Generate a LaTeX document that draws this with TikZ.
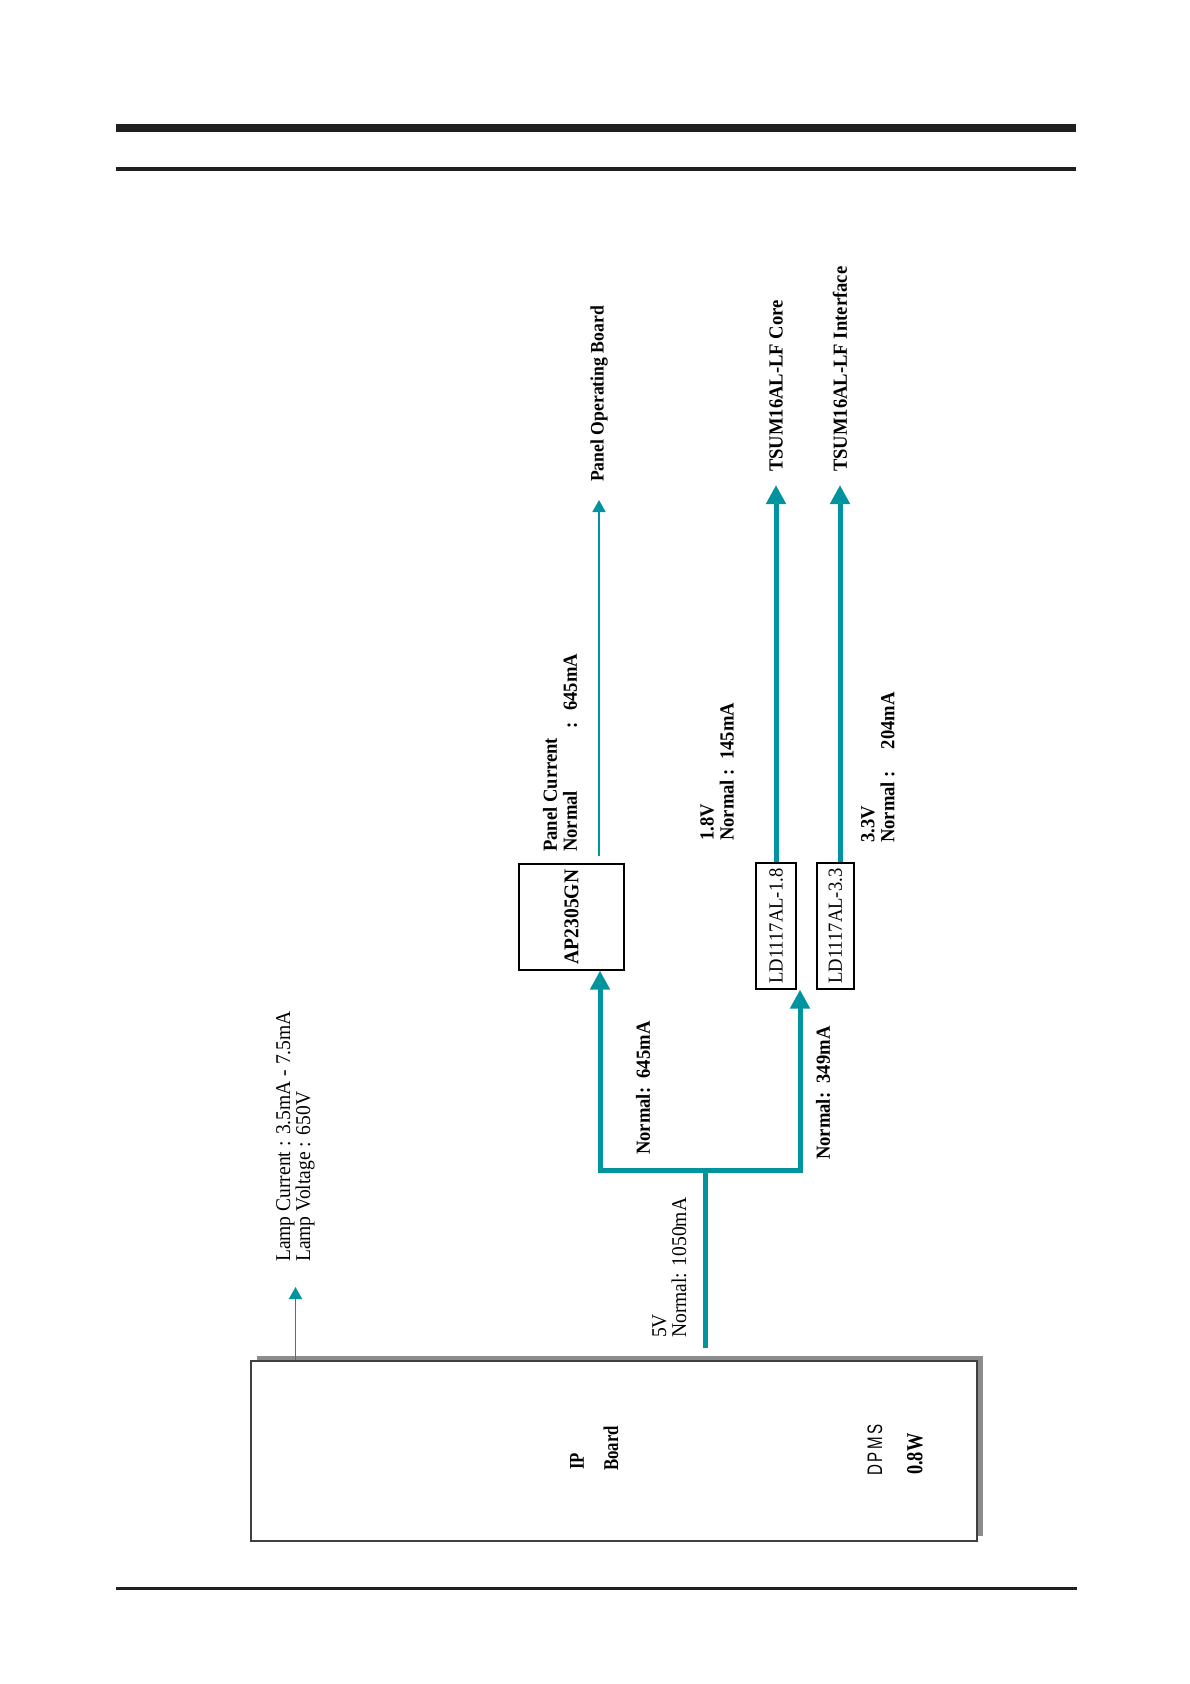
\documentclass[tikz,border=0pt]{standalone}
\usepackage{fontspec}
\setmainfont[FakeStretch=0.93]{Liberation Serif}
\newfontfamily\boardfont[FakeStretch=0.8]{Liberation Serif}
\newfontfamily\dpmsfont[FakeStretch=0.72,LetterSpace=12]{Liberation Sans}
\usepackage{xcolor}
\usetikzlibrary{arrows.meta, positioning, shadows}
\definecolor{railteal}{RGB}{0,148,158}
\tikzset{
    powermap/.style={font=\fontsize{21}{20}\selectfont, line join=miter},
    board/.style={draw=black!75, line width=1.5pt, fill=white, minimum width=726pt, minimum height=180pt, inner sep=0pt,
        drop shadow={shadow xshift=6pt, shadow yshift=5pt, fill=black!45, opacity=1}},
    boardtext/.style={font=\boardfont\fontsize{21}{21}\selectfont\bfseries},
    chip/.style={draw, line width=1.2pt, inner sep=0pt, align=center},
    rail/.style={draw=railteal, line width=5pt, -{Triangle[width=19pt, length=19pt]}},
    feed/.style={draw=railteal, line width=1.5pt, -{Triangle[width=13pt, length=12pt]}},
    % text reads bottom to top, so the west anchor is its foot
    note/.style={rotate=90, anchor=west, align=left, inner sep=0pt},
    heavy/.style={font=\fontsize{20}{20}\selectfont\bfseries},
}

\begin{document}
\begin{tikzpicture}[x=1pt, y=-1pt, powermap]
    \useasboundingbox (0,0) rectangle (1190,1684);

    % page rules
    \fill[black!88] (116,124) rectangle (1076,132);
    \fill[black!88] (116,167) rectangle (1076,171);
    \fill[black!88] (116,1587) rectangle (1077,1590);

    % IP board
    \node[board] (ip) at (614,1451) {};
    \node[note, boardtext] (iplbl)    at (577,1470) {IP};
    \node[note, boardtext] (boardlbl) at (611,1471) {Board};
    \node[note, font=\dpmsfont\fontsize{21}{21}\selectfont] (dpms) at (875,1476) {DPMS};
    \node[note, font=\boardfont\fontsize{23}{23}\selectfont\bfseries] (standby) at (915,1475) {0.8W};

    % regulators
    \node[chip, minimum width=105pt, minimum height=106pt] (ap)   at (571.5,917) {\rotatebox{90}{\bfseries AP2305GN}};
    \node[chip, minimum width=40pt, minimum height=126pt]  (ld18) at (776,926)   {\rotatebox{90}{\fontsize{20}{20}\selectfont LD1117AL-1.8}};
    \node[chip, minimum width=37pt, minimum height=126pt]  (ld33) at (835.5,926) {\rotatebox{90}{\fontsize{20}{20}\selectfont LD1117AL-3.3}};

    % loads
    \node[note, heavy, font=\fontsize{19}{20}\selectfont\bfseries] (pob) at (599,482) {Panel Operating Board};
    \node[note, heavy] (core)  at (776,472) {TSUM16AL-LF Core};
    \node[note, heavy] (iface) at (840,472) {TSUM16AL-LF Interface};

    % current labels
    \node[note] (lamp)  at (295.5,1262) {Lamp Current : 3.5mA - 7.5mA\\Lamp Voltage : 650V};
    \node[note] (fivev) at (669.5,1338) {5V\\Normal: 1050mA};
    \node[note, heavy] (apcur)  at (643,1155) {Normal:\ \ 645mA};
    \node[note, heavy] (ldcur)  at (823,1160) {Normal:\ \ 349mA};
    \node[note, heavy] (panel)  at (560,852) {Panel Current\\Normal\hspace{62pt}:\hspace{12pt}645mA};
    \node[note, heavy] (v18)    at (717,841) {1.8V\\Normal :\ \ 145mA};
    \node[note, heavy] (v33)    at (878,843) {3.3V\\Normal :\hspace{22pt}204mA};

    \coordinate (split) at (705,1170);

    \draw[feed, shorten >=25pt] (ip.north -| lamp.west) -- (lamp.west);
    \draw[rail, -, shorten <=12pt] (ip.north -| split) -- (split);
    \draw[rail] (split) -| ([xshift=28.5pt]ap.south);
    \draw[rail] (split) -| ([xshift=24pt]ld18.south);
    \draw[feed, shorten <=7pt, shorten >=18pt] (ap.north -| pob.west) -- (pob.west);
    \draw[rail, shorten >=13pt] (ld18.north) -- (core.west);
    \draw[rail, shorten >=13pt] (ld33.north -| iface.west) -- (iface.west);
\end{tikzpicture}
\end{document}
